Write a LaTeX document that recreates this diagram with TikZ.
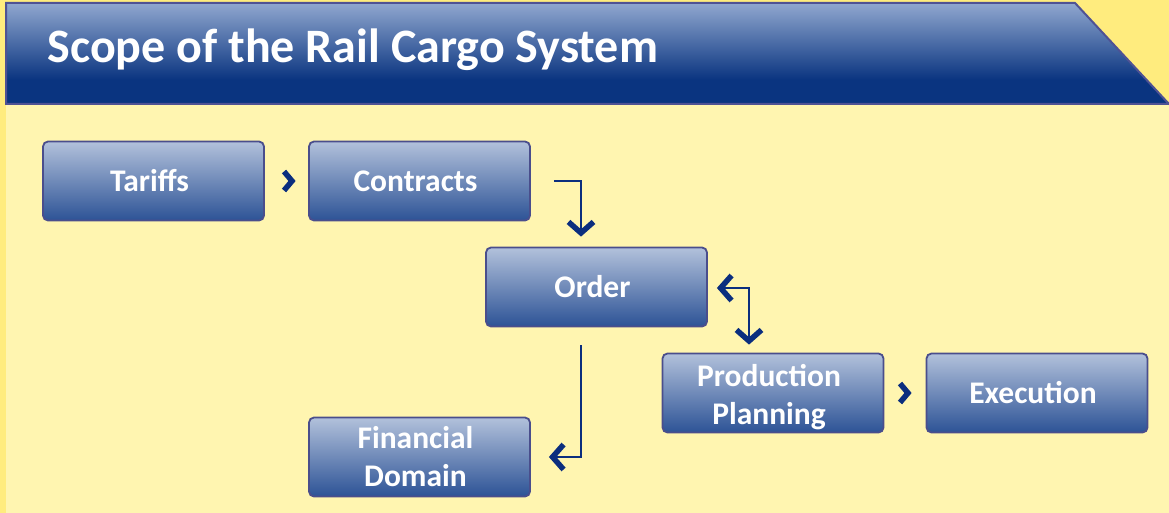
\documentclass[tikz,border=0pt]{standalone}
\usepackage{fontspec}
\setmainfont{Carlito}
\usetikzlibrary{arrows.meta,calc}
\definecolor{bgdark}{HTML}{FFEC7E}
\definecolor{bglight}{HTML}{FFF5B0}
\definecolor{hdrdark}{HTML}{0A3480}
\definecolor{hdrlight}{HTML}{90A7CF}
\definecolor{hdrline}{HTML}{4F5294}
\definecolor{boxtop}{HTML}{B2C1DB}
\definecolor{boxbot}{HTML}{2D5396}
\definecolor{boxline}{HTML}{4A4E8C}
\definecolor{arrowc}{HTML}{0B2E7E}
\pgfdeclareverticalshading{hdrshade}{100bp}{color(0bp)=(hdrdark); color(37bp)=(hdrdark); color(75bp)=(hdrlight); color(100bp)=(hdrlight)}
\tikzset{
  stage/.style={draw=boxline, line width=1.8pt, rounded corners=5pt,
    top color=boxtop, bottom color=boxbot, minimum width=221pt, minimum height=79pt,
    inner sep=0pt, align=center, text=white,
    font=\fontsize{31.5}{38}\selectfont\bfseries},
  link/.style={draw=arrowc, line width=2.5pt,
    >={Straight Barb[length=11pt,width=25pt,line width=5.5pt]}},
  chev/.style={draw=arrowc, line width=5.5pt, line join=miter}
}
\begin{document}
\begin{tikzpicture}[x=1pt,y=-1pt]
\useasboundingbox (0,0) rectangle (1169,513);
\fill[bgdark] (0,0) rectangle (1169,513);
\fill[bglight] (6,104) rectangle (1169,513);
\shade[shading=hdrshade] (6,3) -- (1075,3) -- (1169,104) -- (6,104) -- cycle;
\draw[hdrline, line width=2pt] (6,3) -- (1075,3) -- (1169,104) -- (6,104) -- cycle;
\node[anchor=base west, text=white, font=\fontsize{48}{56}\selectfont\bfseries] (title) at (44,63) {Scope of the Rail Cargo System};

\node[stage] (tariffs) at (153.5,181) {Tariffs\hspace*{8pt}};
\node[stage] (contracts) at (419.5,181) {Contracts\hspace*{8pt}};
\node[stage] (order) at (596.5,287) {Order\hspace*{8pt}};
\node[stage, text depth=0pt] (pp) at (773,393) {\raisebox{-2pt}{Production}\hspace*{8pt}\\\raisebox{-2pt}{Planning}\hspace*{8pt}};
\node[stage] (exec) at (1037,393) {Execution\hspace*{8pt}};
\node[stage] (fin) at (419.5,457) {\raisebox{-2pt}{Financial}\hspace*{8pt}\\\raisebox{-2pt}{Domain}\hspace*{8pt}};

% chevrons
\path (tariffs) -- (contracts) coordinate[midway] (c1);
\draw[chev] ($(c1)+(-2.5,-9.5)$) -- ($(c1)+(5.5,0)$) -- ($(c1)+(-2.5,9.5)$);
\path (pp) -- (exec) coordinate[midway] (c2);
\draw[chev] ($(c2)+(-5,-9.5)$) -- ($(c2)+(3,0)$) -- ($(c2)+(-5,9.5)$);

% elbow connectors
\coordinate (a1) at ($(contracts.east)+(23,0)$);
\coordinate (a2) at ($(order.north)+(-15.5,-10)$);
\draw[link,->] (a1) -| (a2);
\coordinate (b1) at ($(order.east)+(9,1)$);
\coordinate (b2) at ($(pp.north)+(-24,-8)$);
\draw[link,<->] (b1) -| (b2);
\coordinate (d1) at ($(order.south)+(-15.5,18)$);
\coordinate (d2) at ($(fin.east)+(18,0)$);
\draw[link,->] (d1) |- (d2);
\end{tikzpicture}
\end{document}
